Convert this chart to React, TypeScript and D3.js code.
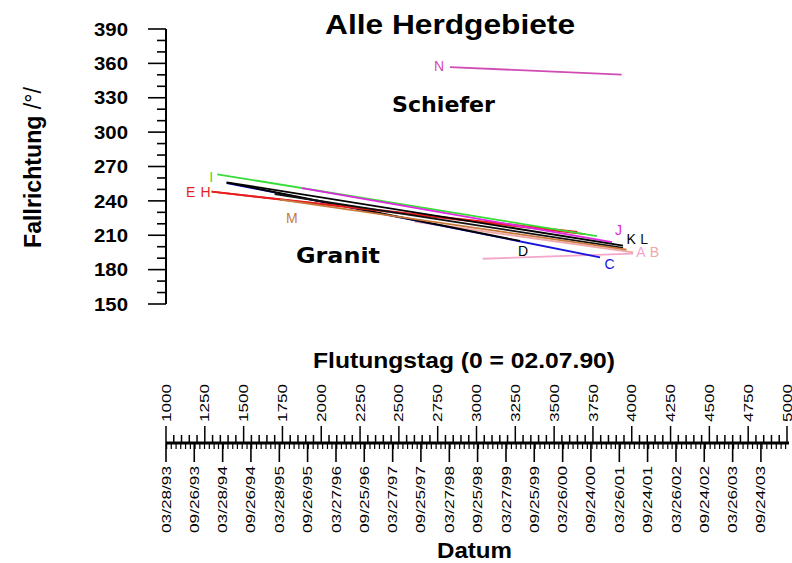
import React from "react";
import * as d3 from "d3";

// Flutungstag 0 = 02.07.1990
const START = new Date(1990, 6, 2);

const dayTicks = [1000, 1250, 1500, 1750, 2000, 2250, 2500, 2750, 3000, 3250, 3500, 3750, 4000, 4250, 4500, 4750, 5000];
const dateTicks = [
  "03/28/93", "09/26/93", "03/28/94", "09/26/94", "03/28/95", "09/26/95",
  "03/27/96", "09/25/96", "03/27/97", "09/25/97", "03/27/98", "09/25/98",
  "03/27/99", "09/25/99", "03/26/00", "09/24/00", "03/26/01", "09/24/01",
  "03/26/02", "09/24/02", "03/26/03", "09/24/03",
];
const degTicks = [150, 180, 210, 240, 270, 300, 330, 360, 390];

// one straight trend line per Herdgebiet: start/end day and Fallrichtung
const names = ["A", "B", "C", "D", "E", "H", "I", "J", "K", "L", "M", "N"];
const startDay = [3040, 2600, 1391, 1391, 1294, 1294, 1330, 1876, 1391, 1700, 1734, 2829];
const startDeg = [189.5, 222, 255.6, 256, 248, 248, 263.2, 251.2, 256.2, 246, 241, 356.8];
const endDay = [4008, 4010, 3796, 3280, 3699, 3650, 3776, 3873, 3944, 3944, 3967, 3935];
const endDeg = [194, 195, 190.7, 205, 211, 213, 209.3, 204, 200.9, 199, 197.4, 350.1];

const colors: Record<string, string> = {
  A: "#f4a6cc", B: "#f0a8a8", C: "#1414dc", D: "#000000", E: "#e61e1e", H: "#e61e1e",
  I: "#38dc38", J: "#e028e0", K: "#000000", L: "#111111", M: "#c8783c", N: "#d04cb4",
};
// where each letter sits: at start or end of its line, plus offset
const labelAt: Record<string, [string, number, number]> = {
  A: ["end", 8, -1], B: ["end", 21, 0], C: ["end", 9.5, 7], D: ["end", 3, 10],
  E: ["start", -21, 0], H: ["start", -6, 0], I: ["start", -6, 3], J: ["end", 6.5, -12],
  K: ["end", 8, -6.5], L: ["end", 21, -8.7], M: ["start", 12, 18], N: ["start", -11, -1],
};

const W = 792;
const H = 563;

const App: React.FC = () => {
  const x = d3.scaleLinear().domain([1000, 5000]).range([166, 787]);
  const y = d3.scaleLinear().domain([150, 390]).range([304, 29]);
  const dateX = d3.scaleTime()
    .domain([d3.timeDay.offset(START, 1000), d3.timeDay.offset(START, 5000)])
    .range([166, 787]);
  const parse = d3.timeParse("%m/%d/%y");
  const line = d3.line<[number, number]>().x((d) => x(d[0])).y((d) => y(d[1]));

  const axisY = 443;
  const months = d3.timeMonth.range(dateX.domain()[0], dateX.domain()[1]);
  const minorDays = d3.range(1000, 5001, 50);
  const minorDeg = d3.range(150, 391, 10);

  return (
    <svg width={W} height={H} style={{ position: "absolute", left: 0, top: 0, background: "#fff" }}
      fontFamily="'Liberation Sans', Arial, sans-serif">
      <text x={325} y={33.5} fontSize={27} fontWeight="bold" textLength={250} lengthAdjust="spacingAndGlyphs">
        Alle Herdgebiete
      </text>

      {/* y axis */}
      <line x1={166} x2={166} y1={y(390)} y2={y(150)} stroke="#000" strokeWidth={2} />
      {minorDeg.map((d) => (
        <line key={d} x1={degTicks.includes(d) ? 148 : 157} x2={166} y1={y(d)} y2={y(d)} stroke="#000" strokeWidth={1.6} />
      ))}
      {degTicks.map((d) => (
        <text key={d} x={128} y={y(d)} dy="0.35em" textAnchor="end" fontSize={19} fontWeight="bold"
          textLength={34} lengthAdjust="spacingAndGlyphs">{d}</text>
      ))}
      <text transform="translate(41,167.5) rotate(-90)" textAnchor="middle" fontSize={23} fontWeight="bold"
        textLength={161} lengthAdjust="spacingAndGlyphs">
        Fallrichtung <tspan fontWeight="normal">/°/</tspan>
      </text>

      {/* trend lines */}
      {names.map((n, i) => (
        <path key={n} d={line([[startDay[i], startDeg[i]], [endDay[i], endDeg[i]]]) || ""}
          fill="none" stroke={colors[n]} strokeWidth={1.8} />
      ))}
      {names.map((n, i) => {
        const [at, dx, dy] = labelAt[n];
        const px = at === "start" ? x(startDay[i]) : x(endDay[i]);
        const py = at === "start" ? y(startDeg[i]) : y(endDeg[i]);
        return (
          <text key={n} x={px + dx} y={py + dy} dy="0.35em" textAnchor="middle" fontSize={14}
            fill={colors[n]}>{n}</text>
        );
      })}

      <text x={392} y={112} fontFamily="'DejaVu Sans', sans-serif" fontSize={21} fontWeight="bold"
        textLength={103} lengthAdjust="spacingAndGlyphs">Schiefer</text>
      <text x={296} y={263} fontFamily="'DejaVu Sans', sans-serif" fontSize={21} fontWeight="bold"
        textLength={84} lengthAdjust="spacingAndGlyphs">Granit</text>

      {/* Flutungstag / Datum axis */}
      <text x={313} y={368} fontSize={22} fontWeight="bold" textLength={302} lengthAdjust="spacingAndGlyphs">
        Flutungstag (0 = 02.07.90)
      </text>
      <line x1={166} x2={789} y1={axisY} y2={axisY} stroke="#000" strokeWidth={3} />
      {minorDays.map((d) => (
        <line key={d} x1={x(d)} x2={x(d)} y1={axisY} y2={dayTicks.includes(d) ? axisY - 17 : axisY - 8}
          stroke="#000" strokeWidth={1.5} />
      ))}
      {dayTicks.map((d) => (
        <text key={d} transform={`translate(${x(d)},422) rotate(-90)`} dy="0.35em" fontSize={13}
          textLength={38} lengthAdjust="spacingAndGlyphs">{d}</text>
      ))}
      {months.map((m) => (
        <line key={m.getTime()} x1={dateX(m)} x2={dateX(m)} y1={axisY} y2={axisY + 6} stroke="#000" strokeWidth={1.2} />
      ))}
      {dateTicks.map((s) => {
        const px = dateX(parse(s) as Date);
        return (
          <g key={s}>
            <line x1={px} x2={px} y1={axisY} y2={axisY + 19} stroke="#000" strokeWidth={1.6} />
            <text transform={`translate(${px},466) rotate(-90)`} dy="0.35em" textAnchor="end" fontSize={13}
              textLength={67} lengthAdjust="spacingAndGlyphs">{s}</text>
          </g>
        );
      })}
      <text x={437} y={558} fontSize={22} fontWeight="bold" textLength={75} lengthAdjust="spacingAndGlyphs">
        Datum
      </text>
    </svg>
  );
};

export default App;
